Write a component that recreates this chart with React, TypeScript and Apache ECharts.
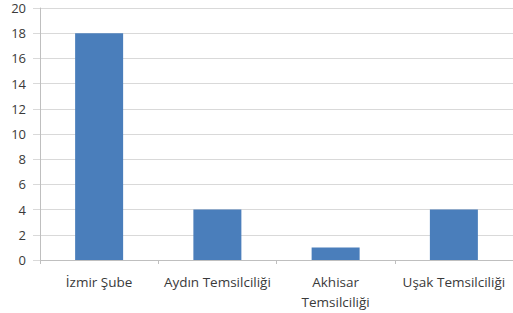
import React, { useEffect, useRef } from "react";
import * as echarts from "echarts";

const categories = ["İzmir Şube", "Aydın Temsilciliği", "Akhisar Temsilciliği", "Uşak Temsilciliği"];
const values = [18, 4, 1, 4];
const yMin = 0;
const yMax = 20;
const yStep = 2;

export default function App() {
  const ref = useRef<HTMLDivElement>(null);
  useEffect(() => {
    if (!ref.current) return;
    const chart = echarts.init(ref.current, undefined, { renderer: "svg" });
    chart.setOption({
      animation: false,
      backgroundColor: "#ffffff",
      grid: { left: 40, top: 8, width: 479, bottom: 53, containLabel: false },
      xAxis: {
        type: "category",
        data: categories,
        axisLine: { show: true, lineStyle: { color: "#bfbfbf", width: 1 } },
        axisTick: { show: true, alignWithLabel: false, length: 4, lineStyle: { color: "#bfbfbf" } },
        axisLabel: {
          interval: 0,
          margin: 12,
          fontFamily: "Open Sans",
          fontSize: 13.5,
          color: "#3a3a3a",
          lineHeight: 20,
          formatter: (v: string) => (v.length > 18 ? v.replace(" ", "\n") : v),
        },
      },
      yAxis: {
        type: "value",
        min: yMin,
        max: yMax,
        interval: yStep,
        axisLine: { show: true, lineStyle: { color: "#bfbfbf", width: 1 } },
        axisTick: { show: true, inside: false, length: 7, lineStyle: { color: "#d9d9d9" } },
        splitLine: { show: true, lineStyle: { color: "#d9d9d9", width: 1 } },
        axisLabel: {
          margin: 14,
          fontFamily: "Open Sans",
          fontSize: 13,
          color: "#3a3a3a",
        },
      },
      series: [
        {
          type: "bar",
          data: values,
          barWidth: 48,
          itemStyle: { color: "#4a7ebb" },
        },
      ],
    });
    return () => chart.dispose();
  }, []);
  return <div ref={ref} style={{ width: 513, height: 313, position: "absolute", left: 0, top: 0 }} />;
}
